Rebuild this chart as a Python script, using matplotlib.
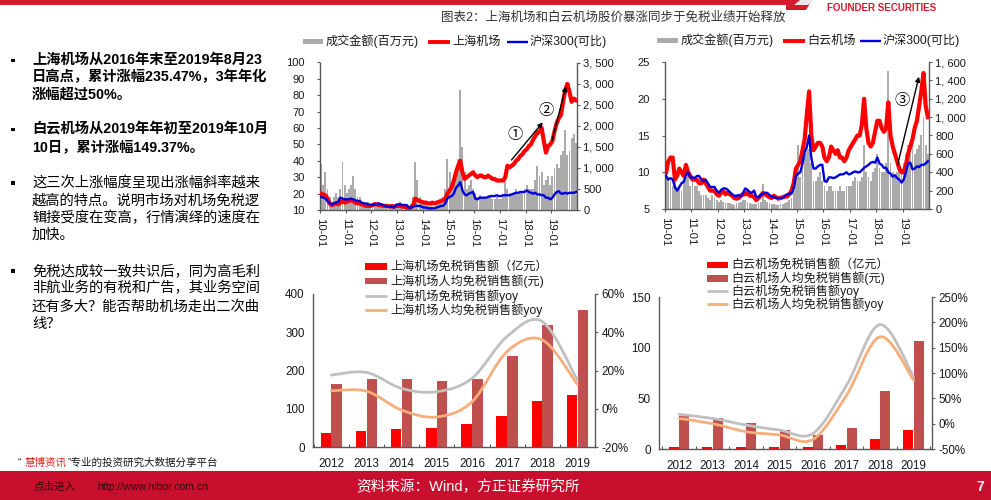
import numpy as np
import matplotlib
matplotlib.use('Agg')
import matplotlib.pyplot as plt
from matplotlib.path import Path
from matplotlib.patches import PathPatch, Rectangle, Polygon
from matplotlib.lines import Line2D

plt.rcParams['font.family'] = ['Liberation Sans', 'Noto Sans CJK SC']
plt.rcParams['axes.unicode_minus'] = False

# ---------------- data ----------------
# monthly samples 2010-01 .. 2019-12
sh_price = [20, 19.5, 19, 17, 14, 13, 13.5, 14, 13.5, 14.5, 15.5, 14.5,
            15, 15.5, 16, 15.5, 14.5, 14, 14, 13.5, 13, 12.5, 12.5, 12.5,
            13, 13.5, 13.5, 13, 13, 12.5, 12.5, 12.5, 12, 12.5, 12, 12.5,
            12.5, 12.5, 12, 12, 11.5, 11, 11.5, 13, 17, 16, 15.5, 15,
            14.5, 14.5, 14, 14, 14.5, 14, 14.5, 15, 15.5, 16, 17, 20,
            22, 24, 28, 33, 37, 40, 33, 29, 30, 31, 32, 33,
            31, 30, 31, 31, 30, 30, 31, 30, 29, 29, 28, 28,
            28, 28, 30, 37, 36, 37, 38, 40, 41, 43, 44, 46,
            47, 49, 50, 53, 55, 57, 58, 60, 52, 45, 49, 50,
            52, 58, 63, 66, 68, 76, 83, 87, 82, 76, 78, 77]
sh_hs300 = [18, 17.5, 17, 15.5, 14, 13.5, 14, 14.5, 15, 17.5, 17, 16.5,
            16.5, 16.5, 17, 16.5, 16, 15.5, 15.5, 14.5, 14, 14, 13.5, 13,
            13, 13.5, 13.5, 14, 13.5, 13, 12.5, 12, 12, 12, 11.5, 13,
            13.5, 13.5, 13, 13, 13, 11.5, 11.5, 12, 12.5, 12.5, 12.5, 12,
            11.5, 11.5, 11, 11, 11, 11, 11.5, 12, 12.5, 12.5, 14, 17,
            18, 18.5, 20, 23.5, 25, 27, 22, 19.5, 19, 20, 20.5, 21,
            17, 16.5, 17.5, 17.5, 17.5, 17.5, 18, 18.5, 18.5, 18.5, 19, 18.5,
            18.5, 19, 19, 19, 19, 19.5, 20, 20.5, 20.5, 21, 21, 21,
            22, 21, 20.5, 20, 20.5, 19.5, 19.5, 19, 19, 17.5, 17.5, 16.5,
            17.5, 19.5, 21, 21.5, 20, 20, 20.5, 20, 20.5, 20.5, 20.5, 21]
sh_volume = [1100, 600, 900, 500, 300, 200, 300, 400, 300, 500, 1150, 600,
             400, 500, 600, 800, 500, 300, 300, 200, 200, 150, 200, 150,
             150, 200, 200, 150, 150, 100, 100, 100, 100, 100, 100, 150,
             150, 200, 150, 100, 100, 100, 150, 300, 1150, 700, 300, 200,
             150, 150, 100, 100, 150, 100, 150, 200, 250, 300, 500, 1200,
             900, 600, 800, 1000, 1200, 2850, 1500, 900, 500, 600, 700, 500,
             400, 300, 350, 300, 300, 250, 300, 350, 250, 250, 300, 250,
             250, 350, 700, 500, 400, 350, 400, 500, 400, 400, 450, 500,
             600, 500, 500, 500, 700, 1050, 800, 900, 600, 700, 800, 600,
             800, 1000, 1100, 1000, 1300, 1400, 1900, 1300, 1400, 1700, 1800, 1600]

by_price = [10, 11.5, 12, 12, 9, 9.5, 10.5, 10, 9.5, 11, 10, 9.5,
            9, 9, 9, 8.5, 8.5, 9, 8.5, 8, 7.5, 7.5, 7.5, 7,
            6.8, 7.2, 7.4, 7, 7.2, 7, 6.8, 6.5, 6.4, 6.5, 6.8, 7,
            7, 7.3, 6.8, 6.8, 6.6, 6.2, 6.5, 6.8, 7.2, 7, 6.8, 6.6,
            6.5, 6.8, 6.6, 6.4, 6.5, 6.6, 6.7, 6.7, 7, 7.5, 8.5, 10.5,
            11, 11.5, 13, 14.5, 18, 21, 15, 13, 13.5, 14, 14, 13.5,
            12, 11.5, 12, 13.5, 13, 12.5, 13, 12, 12, 11.5, 12, 13,
            13.5, 14, 14.5, 15, 15, 16.5, 20, 16, 14, 13.5, 14, 15.5,
            17, 17, 16, 15.5, 16, 19.5, 15, 13.5, 12.5, 11.5, 10.5, 10,
            10, 11, 12.5, 13.5, 14.5, 16, 17, 19, 21, 23.5, 19, 17.5]
by_hs300 = [9.5, 9, 9.2, 9, 8, 7.5, 8, 8.5, 8.7, 9.6, 10, 9.3,
            9.3, 9.2, 9.5, 9.5, 9, 8.8, 9, 8.5, 8, 8, 8, 7.5,
            7.2, 7.6, 7.8, 7.8, 7.6, 7.3, 7, 6.8, 6.8, 6.9, 6.7, 7.2,
            7.8, 7.6, 7.3, 7.2, 7.5, 6.6, 6.6, 6.9, 7.1, 7.2, 7.2, 6.9,
            6.7, 6.6, 6.5, 6.5, 6.5, 6.5, 6.8, 7, 7.1, 7.1, 7.8, 9.5,
            9.8, 10, 11.2, 12.8, 13.5, 15, 12, 10.5, 10.5, 10.8, 11, 11,
            8.8, 8.7, 9.3, 9.3, 9.2, 9.3, 9.5, 9.7, 9.7, 9.8, 10, 9.7,
            9.8, 10, 10.1, 10, 10, 10.3, 10.6, 10.8, 11, 11.3, 11.4, 11.3,
            12, 11.2, 11, 10.6, 10.6, 10, 9.8, 9.4, 9.6, 9.2, 9, 8.6,
            9, 10, 11.2, 11.3, 10.4, 10.5, 10.8, 10.7, 11, 11, 11.2, 11.5]
by_volume = [500, 350, 300, 250, 300, 200, 250, 200, 300, 350, 400, 250,
             300, 250, 250, 200, 150, 150, 150, 120, 100, 150, 120, 100,
             80, 100, 80, 60, 60, 60, 50, 40, 60, 70, 80, 100,
             100, 80, 60, 50, 50, 50, 60, 80, 270, 100, 80, 60,
             50, 50, 40, 40, 50, 50, 60, 80, 100, 120, 200, 400,
             700, 350, 500, 600, 700, 650, 500, 300, 300, 350, 400, 300,
             250, 200, 250, 250, 200, 200, 200, 250, 200, 200, 250, 250,
             250, 300, 350, 300, 300, 350, 700, 400, 350, 300, 400, 450,
             600, 450, 400, 400, 500, 1500, 500, 400, 350, 400, 450, 400,
             500, 600, 700, 600, 700, 600, 650, 700, 800, 1000, 700, 600]

date_ticks = ['10-01', '11-01', '12-01', '13-01', '14-01',
              '15-01', '16-01', '17-01', '18-01', '19-01']

years = ['2012', '2013', '2014', '2015', '2016', '2017', '2018', '2019']
sh_sales = [37, 42, 47, 50, 60, 82, 121, 137]
sh_per = [166, 179, 179, 172, 179, 237, 319, 359]
sh_sales_yoy = [17.6, 19, 10.6, 8.9, 15.9, 37.8, 45.6, 15]
sh_per_yoy = [9.4, 9.2, -0.7, -4.3, 3.6, 29.9, 36, 12.7]
by_sales = [2.3, 2.3, 2.3, 1.6, 1.6, 3.6, 9.8, 19]
by_per = [32.5, 30.8, 25.9, 18.7, 13.8, 20.7, 57.1, 106.3]
by_sales_yoy = [18.3, 10.4, -2.8, -12.6, -19.2, 76, 195.5, 92.5]
by_per_yoy = [10.4, 0, -15.9, -22.3, -30.9, 56.4, 171.4, 86]

# ---------------- figure ----------------
W, H = 991, 500
fig = plt.figure(figsize=(W / 100, H / 100), dpi=100)
fig.patch.set_facecolor('white')


def fx(x):
    return x / W


def fy(y):
    return 1 - y / H


def box(l, t, r, b):
    return [fx(l), fy(b), fx(r) - fx(l), fy(t) - fy(b)]


SPINE = '#595959'
TXT = '#1a1a1a'
GREY_BAR = '#ABABAB'
RED = '#FF0000'
BLUE = '#0000DD'
DARKRED = '#C0504D'
GREY_LINE = '#C0C0C0'
ORANGE = '#F6AE7A'

tx = 2010 + np.arange(len(sh_price)) / 12.0 + 1 / 24


def style_axes(ax):
    ax.spines['top'].set_visible(False)
    for s in ['left', 'right', 'bottom']:
        ax.spines[s].set_color(SPINE)
        ax.spines[s].set_linewidth(1.0)


def fmt_thousands(v):
    return '{:,}'.format(v).replace(',', ', ')


def stock_chart(rect, price, hs, vol, pmin, pmax, pstep, vmax, vstep):
    axv = fig.add_axes(rect)
    axp = axv.twinx()
    axv.bar(tx, vol, width=1 / 12 * 0.9, color=GREY_BAR, linewidth=0)
    axv.set_ylim(0, vmax)
    axv.set_xlim(2010, 2020)
    axv.yaxis.tick_right()
    vt = list(range(0, vmax + 1, vstep))
    axv.set_yticks(vt)
    axv.set_yticklabels([fmt_thousands(v) for v in vt])
    axv.tick_params(axis='y', direction='out', length=2.5, width=0.8,
                    color=SPINE, pad=2, labelsize=8, labelcolor=TXT)
    axv.set_xticks(range(2010, 2020))
    axv.set_xticklabels(date_ticks, rotation=-90, ha='center', va='top')
    axv.tick_params(axis='x', direction='out', length=2.5, width=0.8,
                    color=SPINE, pad=3, labelsize=8.2, labelcolor=TXT)
    style_axes(axv)
    axp.plot(tx, price, color=RED, lw=3.0, solid_joinstyle='round', zorder=2)
    axp.plot(tx, hs, color=BLUE, lw=1.7, solid_joinstyle='round', zorder=3)
    axp.set_ylim(pmin, pmax)
    axp.yaxis.tick_left()
    axp.set_yticks(range(pmin, pmax + 1, pstep))
    axp.tick_params(axis='y', direction='out', length=2, width=0.8,
                    color=SPINE, pad=9, labelsize=8, labelcolor=TXT)
    for s in axp.spines.values():
        s.set_visible(False)
    return axv, axp


axv1, axp1 = stock_chart(box(320, 62.5, 577, 210), sh_price, sh_hs300, sh_volume,
                         10, 100, 10, 3500, 500)
axv2, axp2 = stock_chart(box(665, 62, 929, 209), by_price, by_hs300, by_volume,
                         5, 25, 5, 1600, 200)

arrow_kw = dict(arrowstyle='-|>', color='black', lw=1.0, mutation_scale=7,
                shrinkA=0, shrinkB=0)
axp1.annotate('', xy=(2018.67, 63.5), xytext=(2017.45, 40.5), arrowprops=arrow_kw, zorder=5)
axp1.annotate('', xy=(2019.57, 85.5), xytext=(2019.03, 52.5), arrowprops=arrow_kw, zorder=5)
axp1.text(2017.58, 55.8, '①', fontsize=11, ha='center', va='center',
          family=['Noto Sans CJK SC'], color='black', zorder=6)
axp1.text(2018.78, 71, '②', fontsize=11, ha='center', va='center',
          family=['Noto Sans CJK SC'], color='black', zorder=6)
axp2.annotate('', xy=(2019.62, 23.0), xytext=(2018.81, 11.0), arrowprops=arrow_kw, zorder=5)
axp2.text(2019.0, 19.8, '③', fontsize=11, ha='center', va='center',
          family=['Noto Sans CJK SC'], color='black', zorder=6)


def smooth_line(ax, xs, ys, color, lw):
    pts = np.column_stack([xs, ys]).astype(float)
    n = len(pts)
    verts = [pts[0]]
    codes = [Path.MOVETO]
    for i in range(n - 1):
        p0 = pts[max(i - 1, 0)]
        p1 = pts[i]
        p2 = pts[i + 1]
        p3 = pts[min(i + 2, n - 1)]
        verts += [p1 + (p2 - p0) / 6, p2 - (p3 - p1) / 6, p2]
        codes += [Path.CURVE4] * 3
    ax.add_patch(PathPatch(Path(verts, codes), fill=False, edgecolor=color,
                           lw=lw, capstyle='round', joinstyle='round'))


def duty_chart(rect, sales, per, yoy1, yoy2, lmax, lstep, rmin, rmax, rstep, xl):
    ax = fig.add_axes(rect)
    x = np.arange(len(years))
    ax.bar(x - 0.155, sales, 0.3, color=RED, linewidth=0)
    ax.bar(x + 0.155, per, 0.3, color=DARKRED, linewidth=0)
    ax.set_xlim(*xl)
    ax.set_ylim(0, lmax)
    ax.set_yticks(range(0, lmax + 1, lstep))
    ax.set_xticks(x)
    ax.set_xticklabels(years)
    ax.set_xticks(np.arange(-0.5, len(years), 1.0), minor=True)
    ax.tick_params(axis='x', which='major', length=0, pad=8, labelsize=8.4, labelcolor=TXT)
    ax.tick_params(axis='x', which='minor', length=2.5, width=0.8, color=SPINE, direction='in')
    ax.tick_params(axis='y', length=0, pad=6, labelsize=8.4, labelcolor=TXT)
    style_axes(ax)
    axr = ax.twinx()
    axr.set_ylim(rmin, rmax)
    rt = list(range(rmin, rmax + 1, rstep))
    axr.set_yticks(rt)
    axr.set_yticklabels(['{}%'.format(v) for v in rt])
    axr.tick_params(axis='y', direction='out', length=2.5, width=0.8, color=SPINE,
                    pad=2, labelsize=8.4, labelcolor=TXT)
    for s in axr.spines.values():
        s.set_visible(False)
    smooth_line(axr, x, yoy1, GREY_LINE, 2.0)
    smooth_line(axr, x, yoy2, ORANGE, 2.0)
    return ax, axr


duty_chart(box(313, 294, 595, 447), sh_sales, sh_per, sh_sales_yoy, sh_per_yoy,
           400, 100, -20, 60, 20, (-0.52, 7.5))
duty_chart(box(659, 297, 932, 449), by_sales, by_per, by_sales_yoy, by_per_yoy,
           150, 50, -50, 250, 50, (-0.6, 7.55))


# ---------------- legends (manual) ----------------
def leg_rect(x0, x1, y, h, color):
    fig.add_artist(Rectangle((fx(x0), fy(y + h / 2)), fx(x1) - fx(x0), h / H,
                             transform=fig.transFigure, color=color, lw=0))


def leg_line(x0, x1, y, color, lw):
    fig.add_artist(Line2D([fx(x0), fx(x1)], [fy(y), fy(y)], transform=fig.transFigure,
                          color=color, lw=lw, solid_capstyle='butt'))


def leg_text(x, y, s, size=8.7):
    fig.text(fx(x), fy(y), s, fontsize=size, ha='left', va='center', color=TXT)


# top-left legend
leg_rect(303, 323, 41.5, 5, GREY_BAR)
leg_text(326, 41.5, '成交金额(百万元)')
leg_line(428, 450, 41.5, RED, 2.8)
leg_text(452, 41.5, '上海机场')
leg_line(507, 528, 41.5, BLUE, 1.7)
leg_text(530, 41.5, '沪深300(可比)')
# top-right legend
leg_rect(657, 678, 40.5, 5, GREY_BAR)
leg_text(681, 40.5, '成交金额(百万元)')
leg_line(783, 805, 40.5, RED, 2.8)
leg_text(807, 40.5, '白云机场')
leg_line(860, 881, 40.5, BLUE, 1.7)
leg_text(883, 40.5, '沪深300(可比)')

# bottom-left legend
bl = [(266.7, 'rect', RED, '上海机场免税销售额（亿元）'),
      (281.0, 'rect', DARKRED, '上海机场人均免税销售额(元)'),
      (295.7, 'line', GREY_LINE, '上海机场免税销售额yoy'),
      (310.0, 'line', ORANGE, '上海机场人均免税销售额yoy')]
for y, kind, c, s in bl:
    if kind == 'rect':
        leg_rect(365, 387, y, 6.5, c)
    else:
        leg_line(365, 387, y, c, 2.0)
    leg_text(390, y, s)
br = [(265.0, 'rect', RED, '白云机场免税销售额（亿元）'),
      (278.3, 'rect', DARKRED, '白云机场人均免税销售额(元)'),
      (291.0, 'line', GREY_LINE, '白云机场免税销售额yoy'),
      (304.0, 'line', ORANGE, '白云机场人均免税销售额yoy')]
for y, kind, c, s in br:
    if kind == 'rect':
        leg_rect(707, 728, y, 6.5, c)
    else:
        leg_line(707, 728, y, c, 2.0)
    leg_text(731, y, s)

# ---------------- header ----------------
fig.add_artist(Rectangle((0, fy(5)), fx(786), 5 / H, transform=fig.transFigure,
                         color='#D7192D', lw=0))
fig.add_artist(Polygon([(fx(786), fy(0)), (fx(812), fy(0)), (fx(806), fy(10)), (fx(786), fy(10))],
                       closed=True, transform=fig.transFigure, color='#D7192D', lw=0))
fig.add_artist(Polygon([(fx(800), fy(0)), (fx(814), fy(0)), (fx(808), fy(5)), (fx(794), fy(5))],
                       closed=True, transform=fig.transFigure, color='#E8E8E8', lw=0))
fig.text(fx(827), fy(8), 'FOUNDER SECURITIES', fontsize=7, weight='bold',
         color='#D7192D', ha='left', va='center')
fig.text(fx(613), fy(18), '图表2：上海机场和白云机场股价暴涨同步于免税业绩开始释放',
         fontsize=9, ha='center', va='center', color='#333333')

# ---------------- left bullet text ----------------
bullets = [
    (True, [(60, '上海机场从2016年末至2019年8月23'),
            (77.3, '日高点，累计涨幅235.47%，3年年化'),
            (94.3, '涨幅超过50%。')]),
    (True, [(129.3, '白云机场从2019年年初至2019年10月'),
            (147.3, '10日，累计涨幅149.37%。')]),
    (False, [(182.7, '这三次上涨幅度呈现出涨幅斜率越来'),
             (200.7, '越高的特点。说明市场对机场免税逻'),
             (218.3, '辑接受度在变高，行情演绎的速度在'),
             (235.0, '加快。')]),
    (False, [(270.7, '免税达成较一致共识后，同为高毛利'),
             (288.3, '非航业务的有税和广告，其业务空间'),
             (306.7, '还有多大？能否帮助机场走出二次曲'),
             (324.0, '线？')]),
]
for bold, lines in bullets:
    y0 = lines[0][0]
    fig.add_artist(Rectangle((fx(11), fy(y0 + 2)), 3.5 / W, 3.5 / H,
                             transform=fig.transFigure, color='black', lw=0))
    for y, s in lines:
        fig.text(fx(32), fy(y), s, fontsize=10.3, ha='left', va='center',
                 color='black', weight='bold' if bold else 'normal')

# ---------------- footer ----------------
fig.text(fx(18), fy(463), '“', fontsize=7.6, color=TXT, ha='left', va='center')
fig.text(fx(24), fy(463), '慧博资讯', fontsize=7.6, color='#E02020', ha='left', va='center')
fig.text(fx(68), fy(463), '”专业的投资研究大数据分享平台', fontsize=7.6, color=TXT,
         ha='left', va='center')
fig.add_artist(Rectangle((0, 0), 1, fy(471), transform=fig.transFigure,
                         color='#C8102E', lw=0))
fig.text(fx(34), fy(487), '点击进入', fontsize=7.6, color='#2a0505', ha='left', va='center')
fig.text(fx(97), fy(487), 'http://www.hibor.com.cn', fontsize=7.6, color='#2a0505',
         ha='left', va='center')
fig.text(fx(468), fy(487), '资料来源：Wind，方正证券研究所', fontsize=10.5, color='white',
         ha='center', va='center')
fig.text(fx(980), fy(487), '7', fontsize=10, color='white', weight='bold',
         ha='center', va='center')

fig.savefig('out.png', dpi=100)
